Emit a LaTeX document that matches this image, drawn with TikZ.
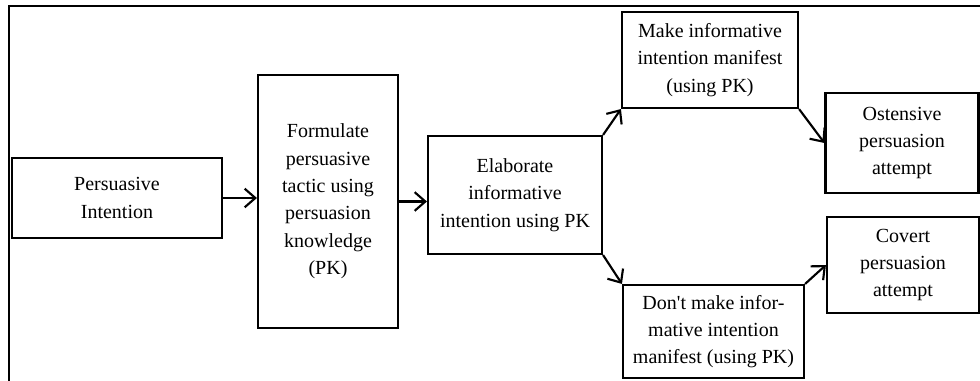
\documentclass[tikz,border=0pt]{standalone}
\usepackage{fontspec}
\setmainfont{Liberation Serif}
\usetikzlibrary{arrows.meta}
\begin{document}
\begin{tikzpicture}[x=0.75pt,y=-0.75pt,
  box/.style={draw,line width=1.6pt,inner sep=0pt,align=center,
    font=\fontsize{15}{20.5}\selectfont},
  link/.style={line width=1.6pt,-{Straight Barb[length=8pt,width=14pt,line width=1.6pt]}}]
\useasboundingbox (0,0) rectangle (980,381);
% frame lines along the top and left
\draw[line width=1.8pt] (9,381) -- (9,6) -- (980,6);
% process boxes (sizes in pt)
\node[box,minimum width=157.5pt,minimum height=60pt] (pi) at (117,198)
  {Persuasive\\Intention};
\node[box,minimum width=105pt,minimum height=189.75pt] (ft) at (328,201.5)
  {Formulate\\persuasive\\tactic using\\persuasion\\knowledge\\(PK)};
\node[box,minimum width=130.5pt,minimum height=88.5pt] (el) at (515,195)
  {Elaborate\\informative\\intention using PK};
\node[box,minimum width=132pt,minimum height=72pt] (mk) at (710,60)
  {Make informative\\intention manifest\\(using PK)};
\node[box,minimum width=135.75pt,minimum height=69.75pt] (dm) at (713.5,331.5)
  {Don\textquotesingle t make infor-\\mative intention\\manifest (using PK)};
\node[box,minimum width=114.75pt,minimum height=75pt] (os) at (902,143)
  {Ostensive\\persuasion\\attempt};
\node[box,minimum width=114pt,minimum height=72pt] (cv) at (903,265)
  {Covert\\persuasion\\attempt};
% connectors
\draw[link] (pi.east) -- (pi.east -| ft.west);
\draw[link] (ft.east) -- (ft.east -| el.west);
\draw[link] (el.north east) -- (mk.south west);
\draw[link] (el.south east) -- (dm.north west);
\draw[link] (mk.south east) -- (os.west);
\draw[link] (dm.north east) -- (cv.west);
\end{tikzpicture}
\end{document}
